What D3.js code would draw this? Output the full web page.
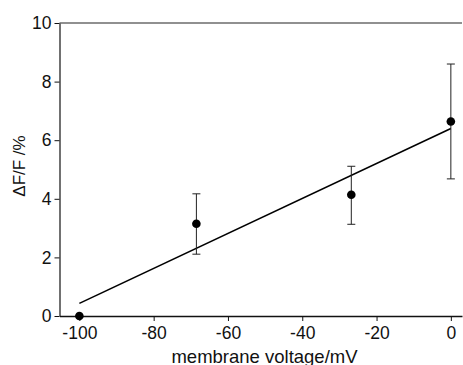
<!DOCTYPE html>
<html>
<head>
<meta charset="utf-8">
<script src="https://cdn.jsdelivr.net/npm/d3@7"></script>
<style>
  body { margin: 0; background: #fff; }
  svg text { font-family: "Liberation Sans", Arial, sans-serif; fill: #111; }
  .axis path, .axis line { stroke: #111; }
</style>
</head>
<body>
<svg id="chart" width="463" height="365"></svg>
<script>
// measured points (voltage in mV, dF/F in %)
var voltage  = [-100, -68.5, -26.8, 0];
var dff      = [0, 3.15, 4.14, 6.64];
var errLow   = [null, 2.11, 3.13, 4.68];
var errHigh  = [null, 4.17, 5.11, 8.6];
// linear fit end points
var fitX = [-100, 0];
var fitY = [0.43, 6.4];
var xTicks = [-100, -80, -60, -40, -20, 0];
var yTicks = [0, 2, 4, 6, 8, 10];

var svg = d3.select('#chart');
var m = {left: 59.5, right: 462, top: 23, bottom: 316};

var x = d3.scaleLinear().domain([-105.35, 3]).range([m.left, m.right]);
var y = d3.scaleLinear().domain([0, 10]).range([m.bottom, m.top]);
var fmt = function(d) { return String(d); };  // plain hyphen minus

// frame: top line
svg.append("line")
    .attr("x1", m.left).attr("x2", m.right)
    .attr("y1", m.top).attr("y2", m.top)
    .attr("stroke", "#222").attr("stroke-width", 1.2);

// x axis
svg.append("g")
    .attr("class", "axis")
    .attr("transform", "translate(0," + m.bottom + ")")
    .call(d3.axisBottom(x).tickValues(xTicks).tickFormat(fmt).tickSizeInner(5).tickSizeOuter(0).tickPadding(6))
    .call(function(g) {
      g.select(".domain").attr("stroke-width", 1.5);
      g.selectAll("text").attr("font-size", 17.5).attr("fill", "#111");
    });

// y axis
svg.append("g")
    .attr("class", "axis")
    .attr("transform", "translate(" + m.left + ",0)")
    .call(d3.axisLeft(y).tickValues(yTicks).tickFormat(fmt).tickSizeInner(5).tickSizeOuter(0).tickPadding(3))
    .call(function(g) {
      g.select(".domain").attr("stroke-width", 1.2);
      g.selectAll("text").attr("font-size", 17.5).attr("fill", "#111");
    });

// axis titles
svg.append("text")
    .attr("x", 264.5).attr("y", 363)
    .attr("text-anchor", "middle")
    .attr("font-size", 18.5)
    .text("membrane voltage/mV");

svg.append("text")
    .attr("transform", "translate(25,166) rotate(-90)")
    .attr("text-anchor", "middle")
    .attr("font-size", 17)
    .text("\u0394F/F /%");

// fit line
svg.append("line")
    .attr("x1", x(fitX[0])).attr("y1", y(fitY[0]))
    .attr("x2", x(fitX[1])).attr("y2", y(fitY[1]))
    .attr("stroke", "#000").attr("stroke-width", 1.6);

// error bars
var eb = svg.append("g").attr("stroke", "#222").attr("stroke-width", 1);
voltage.forEach(function(v, i) {
  if (errLow[i] == null) return;
  var cx = x(v);
  eb.append("line").attr("x1", cx).attr("x2", cx).attr("y1", y(errLow[i])).attr("y2", y(errHigh[i]));
  eb.append("line").attr("x1", cx - 4).attr("x2", cx + 4).attr("y1", y(errLow[i])).attr("y2", y(errLow[i]));
  eb.append("line").attr("x1", cx - 4).attr("x2", cx + 4).attr("y1", y(errHigh[i])).attr("y2", y(errHigh[i]));
});

// points
svg.append("g").selectAll("circle")
    .data(voltage)
  .enter().append("circle")
    .attr("cx", function(d) { return x(d); })
    .attr("cy", function(d, i) { return y(dff[i]); })
    .attr("r", 4.3)
    .attr("fill", "#000");
</script>
</body>
</html>
